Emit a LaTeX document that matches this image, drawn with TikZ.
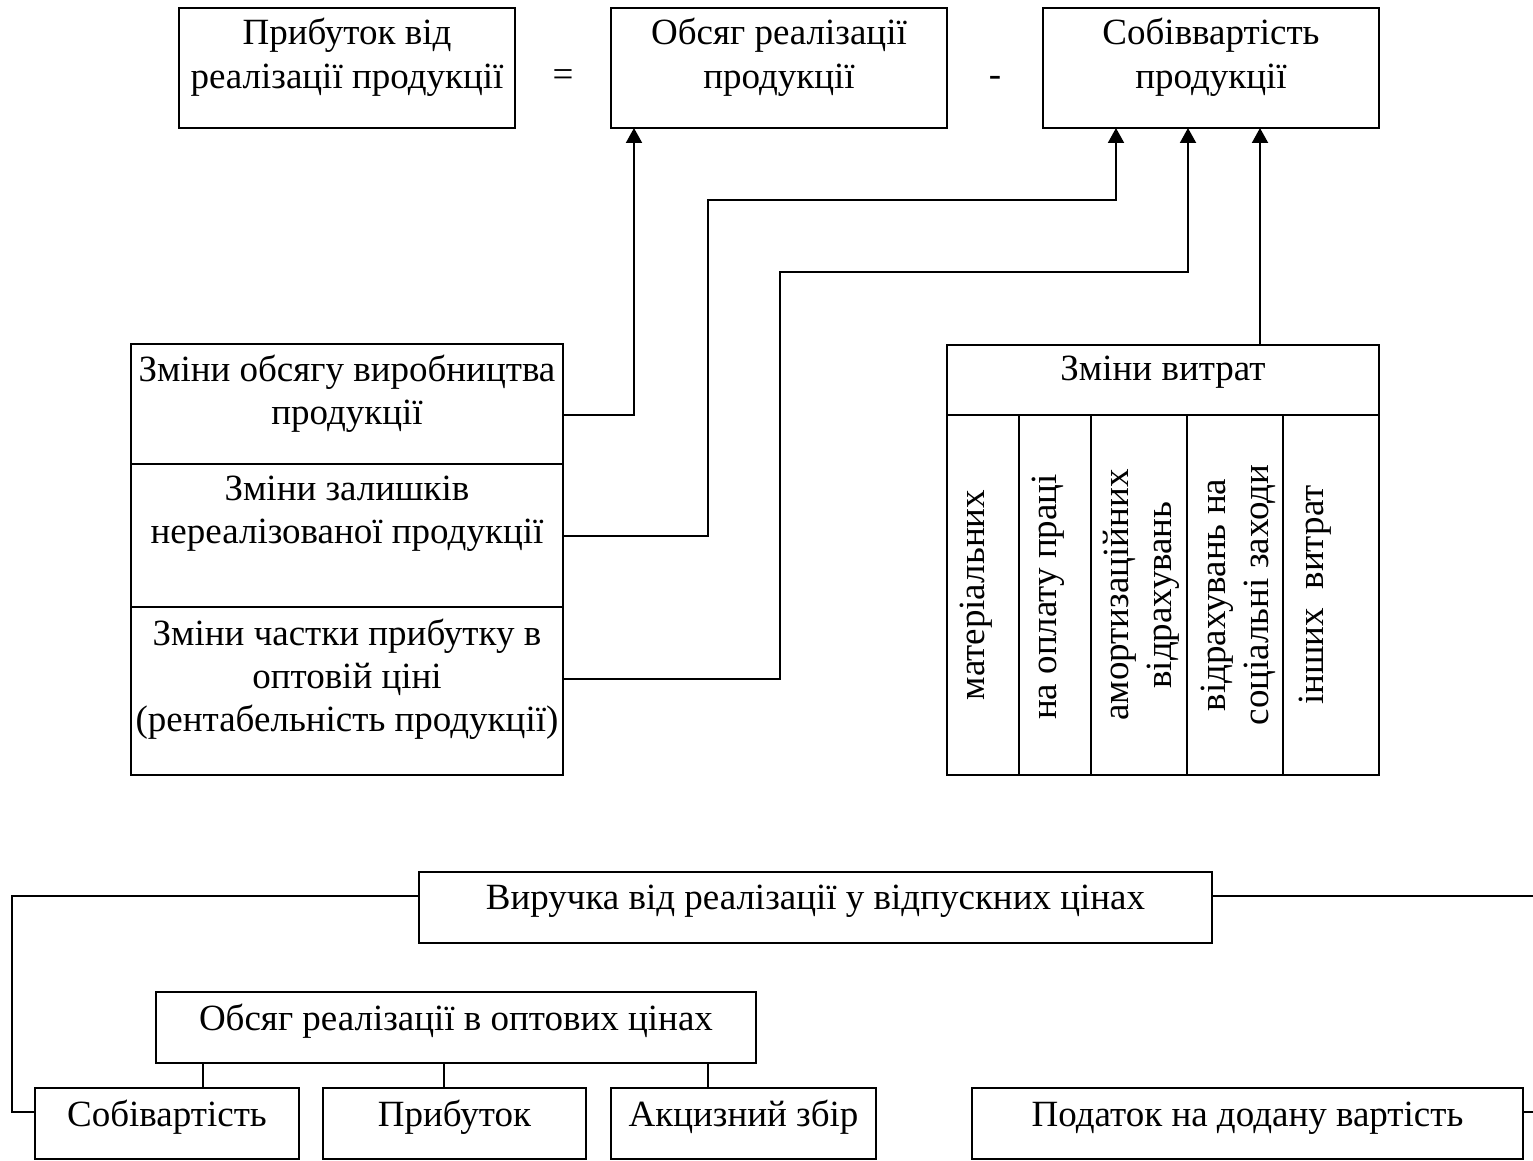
\documentclass[tikz,border=0pt]{standalone}
\usepackage{fontspec}
\setmainfont{Liberation Serif}
\usetikzlibrary{arrows.meta,calc}
\newcommand\bx[4]{\parbox[c][\dimexpr#2pt/2\relax][t]{\dimexpr#1pt/2\relax}{\centering\rule{0pt}{\dimexpr#3pt/2\relax}#4\par}}
\newcommand\vt[1]{\begin{tabular}{@{}c@{}}#1\end{tabular}}
\tikzset{
  box/.style={draw, inner sep=0pt, outer sep=0pt, anchor=north west},
  cell/.style={draw, inner sep=0pt, outer sep=0pt, anchor=north west, minimum width=#1, minimum height=180pt},
  vtext/.style={rotate=90, anchor=north, inner sep=0pt},
  arr/.style={-{Triangle[length=7.5pt,width=8pt]}},
  sym/.style={anchor=base, inner sep=0pt}
}
\begin{document}
\begin{tikzpicture}[x=0.5pt,y=-0.5pt,line width=1pt,font=\fontsize{18.5}{21.5}\selectfont]
\useasboundingbox (0,0) rectangle (1533,1161);
\clip (0,0) rectangle (1533,1161);
% top row
\node[box] (t1) at (179,8) {\bx{336}{120}{37}{\baselineskip=22pt Прибуток від\\реалізації продукції}};
\node[sym] (eq) at (563,87) {=};
\node[box] (t2) at (611,8) {\bx{336}{120}{37}{\baselineskip=22pt Обсяг реалізації\\продукції}};
\node[sym] (mn) at (995,87) {-};
\node[box] (t3) at (1043,8) {\bx{336}{120}{37}{\baselineskip=22pt Собіввартість\\продукції}};
% left stack
\node[box] (l1) at (131,344) {\bx{432}{120}{37}{Зміни обсягу виробництва\\продукції}};
\node[box] (l2) at (131,464) {\bx{432}{143}{36}{Зміни залишків\\нереалізованої продукції}};
\node[box] (l3) at (131,607) {\bx{432}{168}{38}{Зміни частки прибутку в\\оптовій ціні\\(рентабельність продукції)}};
% right table
\node[box] (r0) at (947,345) {\bx{432}{70}{36}{Зміни витрат}};
\node[cell=36pt] (c1) at (947,415) {};
\node[cell=36pt] (c2) at (1019,415) {};
\node[cell=48pt] (c3) at (1091,415) {};
\node[cell=48pt] (c4) at (1187,415) {};
\node[cell=48pt] (c5) at (1283,415) {};
\node[vtext] (x1) at ($(c1.west)+(6,0)$) {\vt{матеріальних}};
\node[vtext] (x2) at ($(c2.west)+(6,2)$) {\vt{на оплату праці}};
\node[vtext] (x3) at ($(c3.west)+(6,0)$) {\vt{амортизаційних\\відрахувань}};
\node[vtext] (x4) at ($(c4.west)+(7,0)$) {\vt{відрахувань на\\соціальні заходи}};
\node[vtext] (x5) at ($(c5.west)+(9,0)$) {\vt{інших\ \ витрат}};
% connectors top
\draw[arr] ($(l1.north east)+(0,71)$) -| ($(t2.south west)+(23,0)$);
\draw[arr] ($(l2.north east)+(0,72)$) -| (708,200) -| ($(t3.south west)+(73,0)$);
\draw[arr] ($(l3.north east)+(0,72)$) -| (780,272) -| ($(t3.south west)+(145,0)$);
\draw[arr] ($(r0.north west)+(313,0)$) -- ($(t3.south west)+(217,0)$);
% bottom section
\node[box] (v) at (419,872) {\bx{793}{71}{37}{Виручка від реалізації у відпускних цінах}};
\node[box] (o) at (156,992) {\bx{600}{71}{38}{Обсяг реалізації в оптових цінах}};
\node[box] (b1) at (35,1088) {\bx{264}{71}{38}{Собівартість}};
\node[box] (b2) at (323,1088) {\bx{263}{71}{38}{Прибуток}};
\node[box] (b3) at (611,1088) {\bx{265}{71}{38}{Акцизний збір}};
\node[box] (b4) at (972,1088) {\bx{551}{71}{38}{Податок на додану вартість}};
\coordinate (p1) at ($(o.south west)+(47,0)$);
\coordinate (p2) at ($(o.south west)+(288,0)$);
\coordinate (p3) at ($(o.south west)+(552,0)$);
\draw (p1) -- (p1 |- b1.north);
\draw (p2) -- (p2 |- b2.north);
\draw (p3) -- (p3 |- b3.north);
\draw ($(v.north west)+(0,24)$) -| ($(b1.north west)+(-23,24)$) -- ($(b1.north west)+(0,24)$);
\draw ($(v.north east)+(0,24)$) -| ($(b4.north east)+(22,24)$) -- ($(b4.north east)+(0,24)$);
\end{tikzpicture}
\end{document}
